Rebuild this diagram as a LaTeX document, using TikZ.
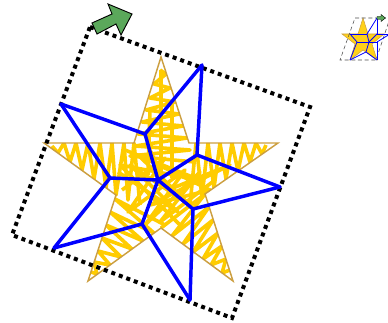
\documentclass[tikz,border=0pt]{standalone}
\definecolor{hatchyellow}{HTML}{FFCC00}
\definecolor{staredge}{HTML}{CC9F40}
\definecolor{cageblue}{HTML}{0000FF}
\definecolor{handlegreen}{HTML}{5BA85B}
\tikzset{
  staroutline/.style={draw=staredge, line width=1.1pt, line join=miter},
  hatchline/.style={draw=hatchyellow, line width=2.7pt, line join=round},
  cageline/.style={draw=cageblue, line width=2.6pt, line cap=round},
  cageframe/.style={draw=black, line width=3pt, dash pattern=on 3pt off 3pt},
  handlearrow/.style={draw=black, fill=handlegreen, line width=0.7pt, line join=miter}
}
\begin{document}
\begin{tikzpicture}[x=0.75pt,y=-0.75pt]
  \useasboundingbox (0,0) rectangle (388,323);
  % star tips and inner corners
  \coordinate (s1) at (161,57);
  \coordinate (s2) at (189,143);
  \coordinate (s3) at (278,143);
  \coordinate (s4) at (205,194);
  \coordinate (s5) at (233,281);
  \coordinate (s6) at (161,228);
  \coordinate (s7) at (88,281);
  \coordinate (s8) at (116,195);
  \coordinate (s9) at (44,143);
  \coordinate (s10) at (134,143);
  % hatching, kept inside the star
  \begin{scope}
    \clip (s1) -- (s2) -- (s3) -- (s4) -- (s5) -- (s6) -- (s7) -- (s8) -- (s9) -- (s10) -- cycle;
    % one zigzag per arm
    \draw[hatchline] (160,70) -- (166,74) -- (154,84) -- (170,88) -- (150,98) -- (175,102) -- (146,110) -- (179,114) -- (142,122) -- (183,126) -- (138,134) -- (187,138) -- (135,146) -- (190,150) -- (130,156) -- (195,162);
    \draw[hatchline] (52,146) -- (58,153) -- (64,143) -- (70,162) -- (76,143) -- (82,170) -- (88,143) -- (94,179) -- (100,143) -- (106,188) -- (112,143) -- (116,195) -- (124,143) -- (128,200) -- (134,143) -- (140,205);
    \draw[hatchline] (266,145) -- (262,154) -- (256,143) -- (250,162) -- (244,143) -- (238,171) -- (232,143) -- (226,179) -- (220,143) -- (214,188) -- (208,143) -- (202,197) -- (196,143) -- (190,205);
    \draw[hatchline] (230,270) -- (222,273) -- (226,259) -- (211,265) -- (222,246) -- (203,259) -- (218,233) -- (193,252) -- (213,220) -- (183,244) -- (209,207) -- (172,236) -- (205,194) -- (161,228);
    \draw[hatchline] (91,272) -- (97,274) -- (94,262) -- (110,265) -- (98,251) -- (121,257) -- (102,238) -- (132,249) -- (106,225) -- (143,241) -- (110,212) -- (154,233) -- (115,199) -- (165,225);
    % crossing strokes in the middle
    \draw[hatchline] (161,70) -- (161,185) (172,100) -- (172,178) (150,110) -- (148,175);
    \draw[hatchline] (118,172) -- (178,212) -- (130,165) -- (190,205) -- (138,155) -- (210,190) -- (150,205) -- (230,165) -- (168,190) -- (150,150);
    \draw[hatchline] (122,190) -- (165,158) -- (128,212) -- (185,170) -- (145,225) -- (200,172) -- (160,222) -- (215,180);
    \draw[hatchline] (125,150) -- (200,180) -- (120,165) -- (180,225);
  \end{scope}
  \draw[staroutline] (s1) -- (s2) -- (s3) -- (s4) -- (s5) -- (s6) -- (s7) -- (s8) -- (s9) -- (s10) -- cycle;
  % frame
  \coordinate (f1) at (90,27);
  \coordinate (f2) at (310,107);
  \coordinate (f3) at (232,318);
  \coordinate (f4) at (12,235);
  \draw[cageframe] (f1) -- (f2) -- (f3) -- (f4) -- cycle;
  % cage vertices
  \coordinate (o) at (158,180);
  \coordinate (a) at (145,134);
  \coordinate (b) at (61,104);
  \coordinate (c) at (202,65);
  \coordinate (d) at (197,155);
  \coordinate (e) at (280,187);
  \coordinate (g) at (193,209);
  \coordinate (h) at (190,300);
  \coordinate (i) at (142,224);
  \coordinate (j) at (54,248);
  \coordinate (k) at (110,178);
  \foreach \p/\q in {o/a,a/b,a/c,b/k,k/o,k/j,j/i,i/o,i/h,h/g,g/o,g/e,e/d,d/o,d/c}{ \draw[cageline] (\p) -- (\q); }
  % handle
  \draw[handlearrow] (92,23) -- (112,14) -- (108,4) -- (132,14) -- (121,35) -- (116,24) -- (97,34) -- cycle;
  % small copy at the top right
  \coordinate (ms1) at (363,18);
  \coordinate (ms2) at (368,34);
  \coordinate (ms3) at (384,34);
  \coordinate (ms4) at (372,44);
  \coordinate (ms5) at (377,60);
  \coordinate (ms6) at (363,50);
  \coordinate (ms7) at (350,60);
  \coordinate (ms8) at (355,44);
  \coordinate (ms9) at (342,34);
  \coordinate (ms10) at (358,34);
  \draw[staroutline, line width=0.4pt, fill=hatchyellow!90!white] (ms1) -- (ms2) -- (ms3) -- (ms4) -- (ms5) -- (ms6) -- (ms7) -- (ms8) -- (ms9) -- (ms10) -- cycle;
  \coordinate (mf1) at (355,18);
  \coordinate (mf2) at (390,18);
  \coordinate (mf3) at (376,60);
  \coordinate (mf4) at (340,60);
  \draw[black!70, line width=0.4pt, densely dashed] (mf1) -- (mf2) -- (mf3) -- (mf4) -- cycle;
  \coordinate (mo) at (369,42);
  \coordinate (ma) at (367,34);
  \coordinate (mb) at (350,34);
  \coordinate (mc) at (377,18);
  \coordinate (md) at (377,34);
  \coordinate (me) at (390,34);
  \coordinate (mg) at (377,42);
  \coordinate (mh) at (377,60);
  \coordinate (mi) at (366,52);
  \coordinate (mj) at (350,60);
  \coordinate (mk) at (357,42);
  \foreach \p/\q in {mo/ma,ma/mb,ma/mc,mb/mk,mk/mo,mk/mj,mj/mi,mi/mo,mi/mh,mh/mg,mg/mo,mg/me,me/md,md/mo,md/mc}{ \draw[cageblue, line width=0.6pt] (\p) -- (\q); }
  \draw[handlearrow, line width=0.3pt] (377,16.5) -- (381,16.5) -- (381,14.5) -- (385.5,18) -- (381,21.5) -- (381,19.5) -- (377,19.5) -- cycle;
\end{tikzpicture}
\end{document}
